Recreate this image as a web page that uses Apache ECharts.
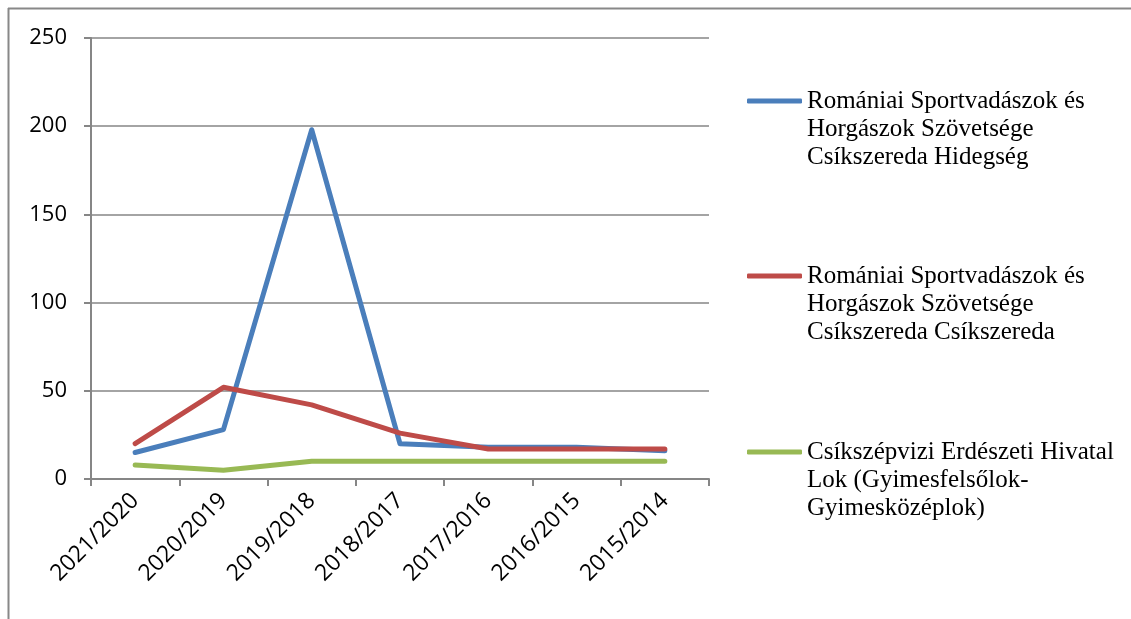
<!DOCTYPE html>
<html lang="hu">
<head>
    <meta charset="UTF-8" />
    <title>Vadászati adatok</title>
    <script src="https://cdn.jsdelivr.net/npm/echarts@6/dist/echarts.min.js"></script>
    <style>
        body { margin: 0; background: #fff; }
        #chart { width: 1131px; height: 619px; }
    </style>
</head>
<body>
<div id="chart"></div>

<script>
    // évek (kategóriák)
    const seasons = ['2021/2020', '2020/2019', '2019/2018', '2018/2017', '2017/2016', '2016/2015', '2015/2014'];

    // sorozatok nevei
    const nameHidegseg = 'Romániai Sportvadászok és Horgászok Szövetsége Csíkszereda Hidegség';
    const nameCsikszereda = 'Romániai Sportvadászok és Horgászok Szövetsége Csíkszereda Csíkszereda';
    const nameLok = 'Csíkszépvizi Erdészeti Hivatal Lok (Gyimesfelsőlok-Gyimesközéplok)';

    // értékek
    const hidegsegValues = [15, 28, 198, 20, 18, 18, 16];
    const csikszeredaValues = [20, 52, 42, 26, 17, 17, 17];
    const lokValues = [8, 5, 10, 10, 10, 10, 10];

    // jelmagyarázat sortörései
    const legendLines = {};
    legendLines[nameHidegseg] = ['Romániai Sportvadászok és', 'Horgászok Szövetsége', 'Csíkszereda Hidegség'];
    legendLines[nameCsikszereda] = ['Romániai Sportvadászok és', 'Horgászok Szövetsége', 'Csíkszereda Csíkszereda'];
    legendLines[nameLok] = ['Csíkszépvizi Erdészeti Hivatal', 'Lok (Gyimesfelsőlok-', 'Gyimesközéplok)'];

    const axisGray = '#868686';
    const lineH = 28;

    // a szöveg középre igazodik az ikonhoz, ezért két üres sor kerül elé,
    // így az első sor lesz egy vonalban a jellel
    function makeLegend(name, iconY) {
        return {
            data: [name],
            left: 747,
            top: iconY - lineH * 2.5,
            padding: 0,
            icon: 'roundRect',
            itemWidth: 55,
            itemHeight: 5,
            selectedMode: false,
            formatter: n => '\n\n' + legendLines[n].join('\n'),
            textStyle: {
                fontFamily: 'Liberation Serif',
                fontSize: 25,
                color: '#000',
                lineHeight: lineH
            }
        };
    }

    function makeSeries(name, values, color) {
        return {
            name: name,
            type: 'line',
            data: values,
            symbol: 'none',
            lineStyle: { color: color, width: 5, cap: 'round', join: 'round' },
            itemStyle: { color: color }
        };
    }

    const chart = echarts.init(document.getElementById('chart'));

    chart.setOption({
        animation: false,
        grid: { left: 91, right: 422, top: 38, bottom: 140 },
        legend: [
            makeLegend(nameHidegseg, 101),
            makeLegend(nameCsikszereda, 276),
            makeLegend(nameLok, 452)
        ],
        xAxis: {
            type: 'category',
            data: seasons,
            boundaryGap: true,
            axisLine: { lineStyle: { color: axisGray, width: 2 } },
            axisTick: { show: true, length: 7, lineStyle: { color: axisGray, width: 2 } },
            axisLabel: {
                rotate: 45,
                margin: 18,
                fontFamily: 'Open Sans',
                fontSize: 23,
                color: '#000'
            }
        },
        yAxis: {
            type: 'value',
            min: 0,
            max: 250,
            interval: 50,
            axisLine: { show: true, lineStyle: { color: axisGray, width: 2 } },
            axisTick: { show: true, length: 7, lineStyle: { color: axisGray, width: 2 } },
            splitLine: { lineStyle: { color: axisGray, width: 1.5 } },
            axisLabel: {
                margin: 24,
                fontFamily: 'Open Sans',
                fontSize: 22,
                color: '#000'
            }
        },
        series: [
            makeSeries(nameHidegseg, hidegsegValues, '#4a7ebb'),
            makeSeries(nameCsikszereda, csikszeredaValues, '#be4b48'),
            makeSeries(nameLok, lokValues, '#98b954')
        ],
        graphic: [
            { type: 'line', shape: { x1: 8.5, y1: 8, x2: 8.5, y2: 619 }, style: { stroke: '#888', lineWidth: 2 } },
            { type: 'line', shape: { x1: 8, y1: 8.5, x2: 1131, y2: 8.5 }, style: { stroke: '#888', lineWidth: 2 } }
        ]
    });
</script>
</body>
</html>
